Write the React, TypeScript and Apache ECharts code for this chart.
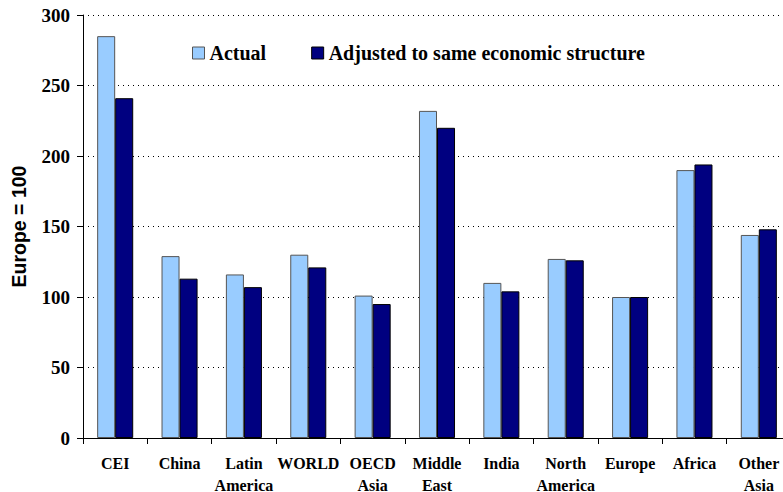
import React, { useEffect, useRef } from "react";
import * as echarts from "echarts";

const categories = ["CEI", "China", "Latin\nAmerica", "WORLD", "OECD\nAsia", "Middle\nEast", "India", "North\nAmerica", "Europe", "Africa", "Other\nAsia"];
const actual = [285, 129, 116, 130, 101, 232, 110, 127, 100, 190, 144];
const adjusted = [241, 113, 107, 121, 95, 220, 104, 126, 100, 194, 148];
const yTicks = [0, 50, 100, 150, 200, 250, 300];

export default function App() {
  const ref = useRef<HTMLDivElement>(null);
  useEffect(() => {
    const chart = echarts.init(ref.current!, null, { renderer: "svg" });
    const serif = "Times New Roman, serif";
    chart.setOption({
      animation: false,
      backgroundColor: "#ffffff",
      grid: { left: 83, top: 15, width: 708, height: 423, containLabel: false, outerBoundsMode: "none" },
      legend: {
        left: 192,
        top: 43,
        padding: 0,
        itemWidth: 12,
        itemHeight: 12,
        itemGap: 45,
        icon: "rect",
        textStyle: { fontFamily: serif, fontWeight: "bold", fontSize: 20, color: "#000" },
        data: [
          { name: "Actual", itemStyle: { color: "#99CCFF", borderColor: "#555", borderWidth: 1 } },
          { name: "Adjusted to same economic structure", itemStyle: { color: "#000080", borderColor: "#000", borderWidth: 1 } },
        ],
      },
      xAxis: {
        type: "category",
        data: categories,
        axisLine: { show: true, lineStyle: { color: "#000", width: 1 } },
        axisTick: { show: true, length: 6, lineStyle: { color: "#000" } },
        axisLabel: {
          fontFamily: serif,
          fontWeight: "bold",
          fontSize: 16,
          color: "#000",
          lineHeight: 22,
          margin: 14,
          interval: 0,
          hideOverlap: false,
        },
      },
      yAxis: {
        type: "value",
        min: 0,
        max: 300,
        interval: 50,
        name: "Europe = 100",
        nameLocation: "middle",
        nameGap: 54,
        nameRotate: 90,
        nameTextStyle: { fontFamily: "Arial, sans-serif", fontWeight: "bold", fontSize: 19.5, color: "#000" },
        axisLine: { show: true, lineStyle: { color: "#000", width: 1 } },
        axisTick: { show: true, length: 6, lineStyle: { color: "#000" } },
        axisLabel: {
          fontFamily: serif,
          fontWeight: "bold",
          fontSize: 19,
          color: "#000",
          margin: 13,
          formatter: (v: number) => (yTicks.includes(v) ? String(v) : ""),
        },
        splitLine: { show: true, lineStyle: { color: "#000", type: [1, 4], width: 1 } },
      },
      series: [
        {
          name: "Actual",
          type: "bar",
          data: actual,
          barGap: "0%",
          barCategoryGap: "44%",
          itemStyle: { color: "#99CCFF", borderColor: "#555", borderWidth: 1 },
        },
        {
          name: "Adjusted to same economic structure",
          type: "bar",
          data: adjusted,
          itemStyle: { color: "#000080", borderColor: "#000", borderWidth: 1 },
        },
      ],
    });
    return () => chart.dispose();
  }, []);
  return <div ref={ref} style={{ width: 783, height: 492, position: "absolute", left: 0, top: 0 }} />;
}
